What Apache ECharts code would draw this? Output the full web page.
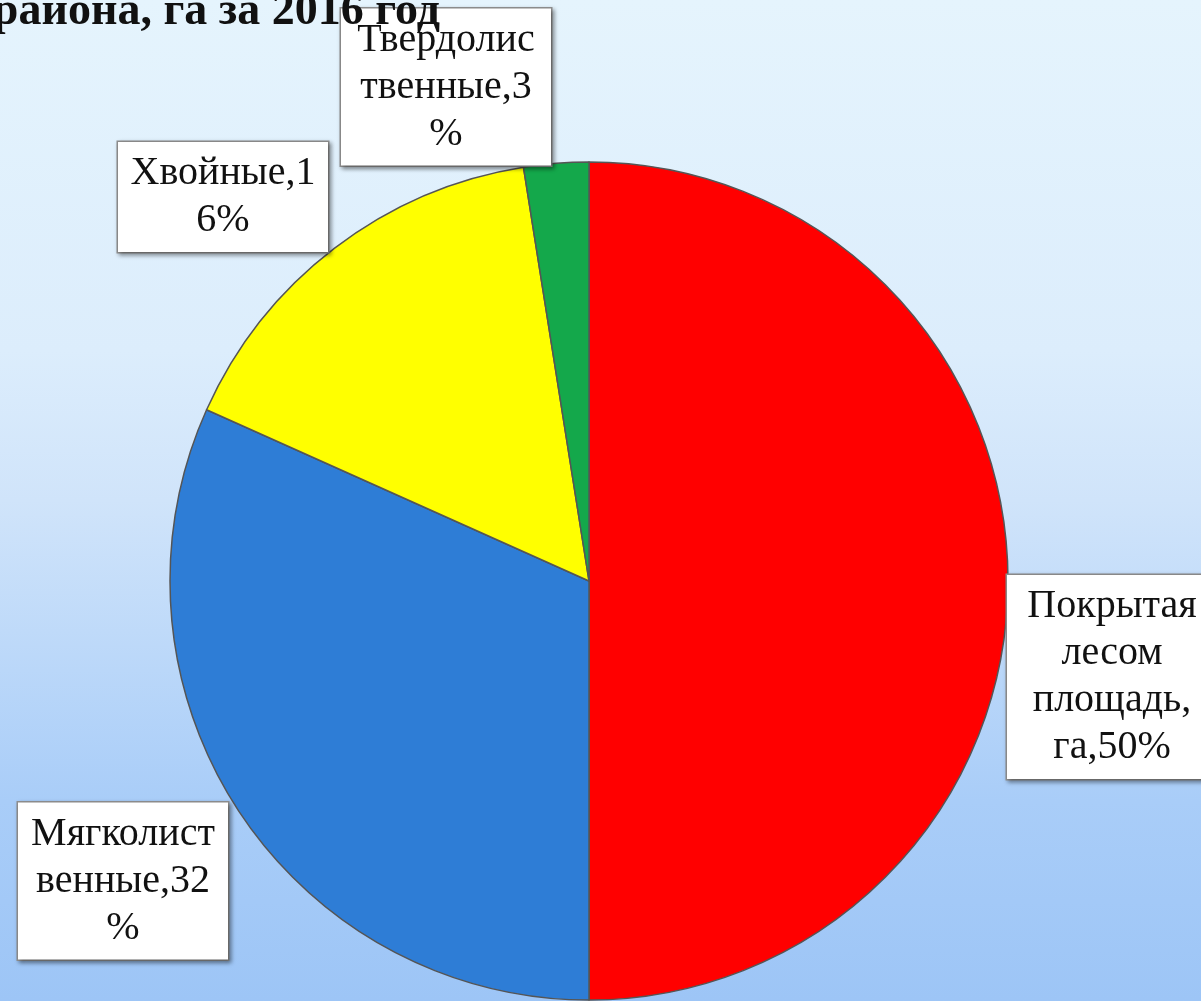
<!DOCTYPE html>
<html>
<head>
<meta charset="utf-8">
<script src="https://cdn.jsdelivr.net/npm/echarts@6/dist/echarts.min.js"></script>
<style>
html,body{margin:0;padding:0;width:1201px;height:1001px;overflow:hidden;}
#chart{width:1201px;height:1001px;}
</style>
</head>
<body>
<div id="chart"></div>
<script>
// ---- data ----
const categories = ['Покрытая лесом площадь, га', 'Мягколиственные', 'Хвойные', 'Твердолиственные'];
const values = [50.0, 31.7, 15.8, 2.5];
const colors = ['#ff0000', '#2e7dd6', '#ffff00', '#14a84b'];
const titleText = 'района, га за 2016 год';

// label box centres (layout)
const labelCenters = [[1112, 677], [123, 881], [223, 197], [446, 87]];

const LABEL_FONT = '40px "Liberation Serif"';
const WRAP_W = 190;
const ctx = document.createElement('canvas').getContext('2d');
ctx.font = LABEL_FONT;
function wrap(text) {
  const words = text.split(' ');
  const lines = [];
  let cur = '';
  const fits = s => ctx.measureText(s).width <= WRAP_W;
  words.forEach(w => {
    const cand = cur ? cur + ' ' + w : w;
    if (fits(cand)) { cur = cand; return; }
    if (cur) { lines.push(cur); cur = ''; }
    let piece = '';
    for (const ch of w) {
      if (fits(piece + ch)) piece += ch;
      else { lines.push(piece); piece = ch; }
    }
    cur = piece;
  });
  if (cur) lines.push(cur);
  return lines.join('\n');
}

const chart = echarts.init(document.getElementById('chart'));
const option = {
  backgroundColor: {
    type: 'linear', x: 0, y: 0, x2: 0, y2: 1,
    colorStops: [
      {offset: 0, color: '#e5f4fd'},
      {offset: 0.35, color: '#dcedfc'},
      {offset: 0.5, color: '#d0e4fa'},
      {offset: 0.8, color: '#a9cdf8'},
      {offset: 1, color: '#9dc5f6'}
    ]
  },
  animation: false,
  graphic: [{
    type: 'text',
    z: 10,
    style: {
      x: 440, y: 12,
      text: titleText,
      font: 'bold 46px "Liberation Serif"',
      fill: '#111',
      textAlign: 'right',
      textVerticalAlign: 'middle'
    }
  }],
  series: [{
    type: 'pie',
    z: 2,
    center: [589, 581],
    radius: 419,
    startAngle: 90,
    clockwise: true,
    avoidLabelOverlap: false,
    data: categories.map((n, i) => ({name: n, value: values[i], itemStyle: {color: colors[i]}})),
    itemStyle: {borderColor: '#555555', borderWidth: 1.5},
    labelLine: {show: false},
    label: {
      show: true,
      position: 'inside',
      rotate: 0,
      formatter: p => wrap(p.name + ',' + Math.round(p.percent) + '%'),
      color: '#111',
      fontFamily: 'Liberation Serif',
      fontSize: 40,
      lineHeight: 47,
      width: WRAP_W,
      overflow: 'none',
      align: 'center',
      backgroundColor: '#ffffff',
      borderColor: '#8e8e8e',
      borderWidth: 1.5,
      padding: [8, 10],
      shadowColor: 'rgba(0,0,0,0.35)',
      shadowBlur: 4,
      shadowOffsetX: 2,
      shadowOffsetY: 2
    },
    labelLayout: function (params) {
      const c = labelCenters[params.dataIndex];
      return {x: c[0], y: c[1], align: 'center', verticalAlign: 'middle'};
    },
    emphasis: {disabled: true}
  }]
};
chart.setOption(option);
</script>
</body>
</html>
